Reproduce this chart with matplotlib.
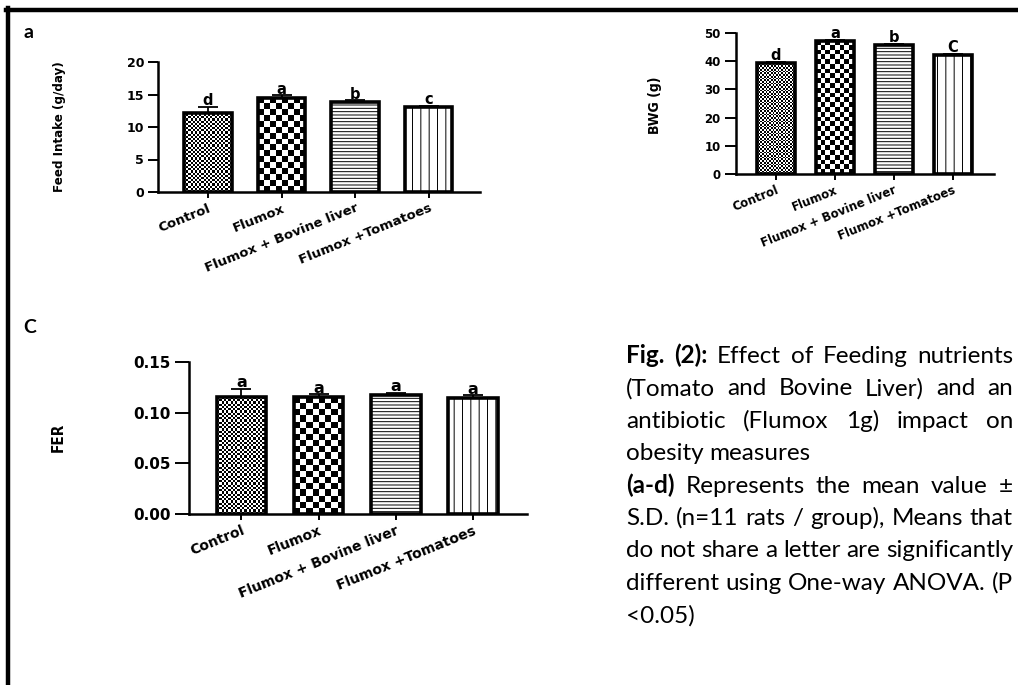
import matplotlib
matplotlib.use('Agg')
import matplotlib.pyplot as plt
from matplotlib.lines import Line2D
import numpy as np

groups = ['Control', 'Flumox', 'Flumox + Bovine liver', 'Flumox +Tomatoes']

feed_mean = [12.2, 14.5, 13.8, 13.1]
feed_err = [0.9, 0.35, 0.3, 0.15]
feed_let = ['d', 'a', 'b', 'c']

bwg_mean = [39.4, 47.2, 45.9, 42.3]
bwg_err = [0.4, 0.4, 0.3, 0.3]
bwg_let = ['d', 'a', 'b', 'C']

fer_mean = [0.115, 0.115, 0.117, 0.1145]
fer_err = [0.0085, 0.003, 0.0025, 0.0025]
fer_let = ['a', 'a', 'a', 'a']

caption = [
    ([('Fig.', 1), ('(2):', 1), ('Effect', 0), ('of', 0), ('Feeding', 0), ('nutrients', 0)], True),
    ([('(Tomato', 0), ('and', 0), ('Bovine', 0), ('Liver)', 0), ('and', 0), ('an', 0)], True),
    ([('antibiotic', 0), ('(Flumox', 0), ('1g)', 0), ('impact', 0), ('on', 0)], True),
    ([('obesity', 0), ('measures', 0)], False),
    ([('(a-d)', 1), ('Represents', 0), ('the', 0), ('mean', 0), ('value', 0), ('\u00b1', 0)], True),
    ([('S.D.', 0), ('(n=11', 0), ('rats', 0), ('/', 0), ('group),', 0), ('Means', 0), ('that', 0)], True),
    ([('do', 0), ('not', 0), ('share', 0), ('a', 0), ('letter', 0), ('are', 0), ('significantly', 0)], True),
    ([('different', 0), ('using', 0), ('One-way', 0), ('ANOVA.', 0), ('(P', 0)], True),
    ([('<0.05)', 0)], False),
]

plt.rcParams['font.family'] = ['DejaVu Sans']
plt.rcParams['hatch.linewidth'] = 0.7

W, H = 1018, 685
fig = plt.figure(figsize=(W / 100, H / 100), dpi=100)


def px(x, y):
    return x / W, 1 - y / H


def checker(ax, bar, ncols):
    x, y0, w, h = bar.get_x(), bar.get_y(), bar.get_width(), bar.get_height()
    p0 = ax.transData.transform((x, y0))
    p1 = ax.transData.transform((x + w, y0 + h))
    cell = (p1[0] - p0[0]) / ncols
    nrows = max(1, int(round((p1[1] - p0[1]) / cell)))
    grid = np.indices((nrows, ncols)).sum(axis=0) % 2
    im = ax.imshow(grid, cmap='gray', extent=(x, x + w, y0, y0 + h), aspect='auto',
                   interpolation='nearest', zorder=0.9)
    im.set_clip_path(bar)
    bar.set_facecolor('none')


def panel(rect, means, errs, lets, ylim, yticks, fmt, tsize, xsize, lsize, ytl):
    ax = fig.add_axes(rect)
    x = np.arange(len(groups))
    ax.set_xlim(-0.68, 3.7)
    ax.set_ylim(*ylim)
    bars = ax.bar(x, means, width=0.64, color='white', edgecolor='black', linewidth=2.6)
    bars[2].set_hatch('-----')
    bars[3].set_hatch('||')
    checker(ax, bars[0], 22)
    checker(ax, bars[1], 8)
    ax.errorbar(x, means, yerr=[np.zeros(4), errs], fmt='none', ecolor='black',
                elinewidth=1.3, capsize=7, capthick=1.3, zorder=3)
    for xi, m, e, l in zip(x, means, errs, lets):
        ax.annotate(l, (xi, m + e), xytext=(0, -1), textcoords='offset points',
                    ha='center', va='bottom', fontsize=lsize, fontweight='bold')
    ax.set_xlim(-0.68, 3.7)
    ax.set_ylim(*ylim)
    ax.set_yticks(yticks)
    ax.set_yticklabels([fmt.format(v) for v in yticks], fontsize=tsize, fontweight='heavy')
    ax.set_xticks(x)
    ax.set_xticklabels(groups, rotation=22, ha='right', rotation_mode='anchor',
                       fontsize=xsize, fontweight='heavy')
    for s in ['top', 'right']:
        ax.spines[s].set_visible(False)
    for s in ['left', 'bottom']:
        ax.spines[s].set_linewidth(1.8)
    ax.tick_params(axis='y', length=ytl, width=1.4, pad=3)
    ax.tick_params(axis='x', length=4, width=1.4, pad=3)
    ax.patch.set_alpha(0)
    return ax


# a: feed intake
l, b = px(158, 192)
r, t = px(480, 62)
panel([l, b, r - l, t - b], feed_mean, feed_err, feed_let, (0, 20), [0, 5, 10, 15, 20],
      '{:g}', 9, 9.5, 10.5, 7)

# b: body weight gain
l, b = px(736, 174)
r, t = px(994, 33)
panel([l, b, r - l, t - b], bwg_mean, bwg_err, bwg_let, (0, 50), [0, 10, 20, 30, 40, 50],
      '{:g}', 8.5, 8.5, 10.5, 8)

# c: FER
l, b = px(189, 514)
r, t = px(527, 362)
panel([l, b, r - l, t - b], fer_mean, fer_err, fer_let, (0, 0.15), [0, 0.05, 0.10, 0.15],
      '{:.2f}', 11, 10, 11.5, 10)

narrow = ['Liberation Sans Narrow', 'DejaVu Sans Condensed', 'DejaVu Sans']
fig.text(*px(60, 127), 'Feed Intake (g/day)', rotation=90, ha='center', va='center',
         fontsize=9.5, family=narrow, stretch='condensed', fontweight='semibold')
fig.text(*px(655, 105), 'BWG (g)', rotation=90, ha='center', va='center',
         fontsize=10, fontweight='bold', family=narrow, stretch='condensed')
fig.text(*px(58, 437), 'FER', rotation=90, ha='center', va='center',
         fontsize=11, fontweight='bold', family=narrow, stretch='condensed')

capfont = ['Lato', 'DejaVu Sans']
fig.text(*px(23, 38), 'a', fontsize=14, fontweight='bold', family=capfont, va='baseline')
fig.text(*px(23, 333), 'C', fontsize=14, fontweight='bold', family=capfont, va='baseline')

# frame on top and left
fig.add_artist(Line2D([6 / W, 1], [1 - 10 / H] * 2, color='black', lw=3.2))
fig.add_artist(Line2D([8 / W] * 2, [0, 1 - 8 / H], color='black', lw=3.2))

# caption, justified
rend = fig.canvas.get_renderer()
x0, x1 = 626, 1013
fs = 18.5
lines = []
for words, just in caption:
    ts = [fig.text(0, 0, w, fontsize=fs, family=capfont,
                   fontweight='bold' if bold else 'normal', va='baseline') for w, bold in words]
    lines.append((ts, just))
space = fs * 0.23 * 100 / 72
widest = max(sum(t.get_window_extent(rend).width for t in ts) + space * (len(ts) - 1)
             for ts, j in lines)
k = min(1.0, (x1 - x0) / widest)
for i, (ts, just) in enumerate(lines):
    for t in ts:
        t.set_fontsize(fs * k)
    widths = [t.get_window_extent(rend).width for t in ts]
    if just and len(ts) > 1:
        gap = (x1 - x0 - sum(widths)) / (len(ts) - 1)
    else:
        gap = space * k
    xx = x0
    y = 363 + 32.4 * i
    for t, w in zip(ts, widths):
        t.set_position(px(xx, y))
        xx += w + gap

fig.savefig('out.png', dpi=100)
